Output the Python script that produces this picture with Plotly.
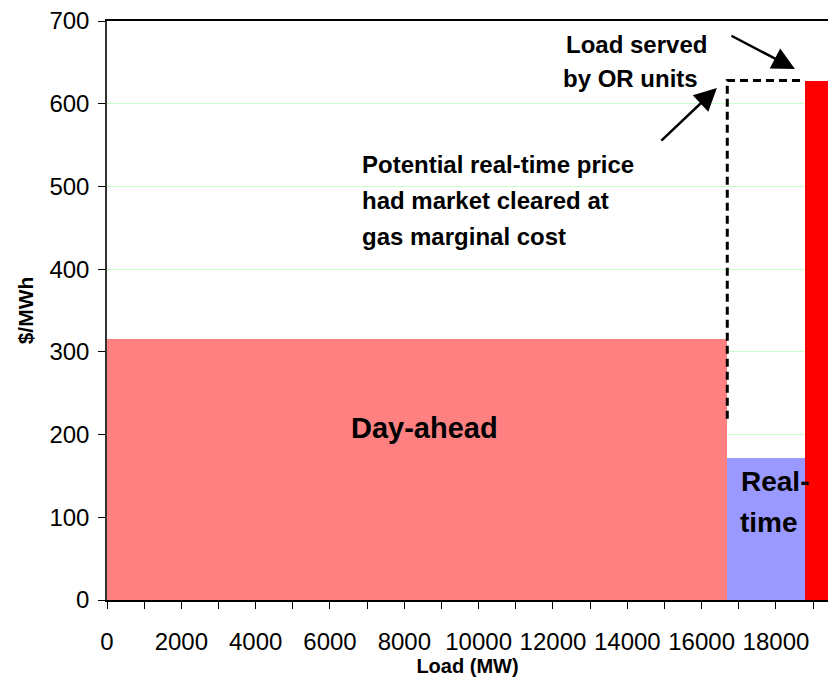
import plotly.graph_objects as go

# ── Data ──────────────────────────────────────────────────────────────────────
block_names  = ["Day-ahead", "Real-time", "OR units"]
block_start  = [0, 16690, 18780]          # MW
block_end    = [16690, 18780, 19600]      # MW
block_price  = [315, 172, 628]            # $/MWh
block_colors = ["#FF8080", "#9999FF", "#FF0000"]

# potential real-time price had market cleared at gas marginal cost
potential_x = [16690, 16690, 18780]
potential_y = [219, 628, 628]

x_tickvals = list(range(0, 20000, 2000))
x_ticktext = [str(v) for v in x_tickvals]
y_tickvals = list(range(0, 800, 100))

FONT = "Liberation Sans, Arial, sans-serif"

# ── Figure ────────────────────────────────────────────────────────────────────
fig = go.Figure()

fig.add_trace(go.Bar(
    x=[(s + e) / 2 for s, e in zip(block_start, block_end)],
    y=block_price,
    width=[e - s for s, e in zip(block_start, block_end)],
    marker=dict(color=block_colors, line=dict(width=0)),
    text=block_names, hoverinfo="text+y", textposition="none",
    showlegend=False,
))

fig.add_trace(go.Scatter(
    x=potential_x, y=potential_y, mode="lines",
    line=dict(color="black", width=3, dash="8px,5px"),
    showlegend=False, hoverinfo="skip",
))

# ── Text labels ───────────────────────────────────────────────────────────────
def label(text, x, y, size, xanchor="left"):
    fig.add_annotation(x=x, y=y, text=f"<b>{text}</b>", showarrow=False,
                       xanchor=xanchor, yanchor="middle",
                       font=dict(family=FONT, size=size, color="black"))

label("Day-ahead", 8555, 208, 29, xanchor="center")
label("Real-", 17010, 143, 28)
label("time", 16990, 94, 28)

label("Potential real-time price", 6807, 527, 24)
label("had market cleared at", 6807, 483, 24)
label("gas marginal cost", 6807, 440, 24)

label("Load served", 12300, 671, 24)
label("by OR units", 12220, 630, 24)

# ── Arrows ────────────────────────────────────────────────────────────────────
for tip_x, tip_y, off_x, off_y in [(18510, 642, -65, -34), (16410, 619, -57, 54)]:
    fig.add_annotation(x=tip_x, y=tip_y, ax=off_x, ay=off_y, text="",
                       showarrow=True, arrowhead=2, arrowsize=1.8,
                       arrowwidth=2.5, arrowcolor="black", standoff=0)

# ── Layout ────────────────────────────────────────────────────────────────────
fig.update_layout(
    width=828, height=681,
    margin=dict(l=107, r=0, t=21, b=81, autoexpand=False),
    plot_bgcolor="white", paper_bgcolor="white",
    bargap=0,
    font=dict(family=FONT, size=24, color="black"),
    xaxis=dict(
        range=[0, 19400], tickvals=x_tickvals, ticktext=x_ticktext,
        ticks="outside", ticklen=7, tickcolor="black", tickwidth=1,
        minor=dict(dtick=1000, tick0=0, ticks="outside", ticklen=7,
                   tickcolor="black", tickwidth=1, showgrid=False),
        showgrid=False, zeroline=False,
        showline=True, linecolor="black", linewidth=1.5, mirror=True,
        ticklabelstandoff=12,
        tickfont=dict(size=24),
        title=dict(text="<b>Load (MW)</b>", font=dict(size=20), standoff=0),
    ),
    yaxis=dict(
        range=[0, 700], tickvals=y_tickvals,
        ticks="outside", ticklen=7, tickcolor="black", tickwidth=1,
        showgrid=True, gridcolor="#C8FFC8", gridwidth=1,
        zeroline=False,
        showline=True, linecolor="#333333", linewidth=1.5,
        ticklabelstandoff=4,
        tickfont=dict(size=24),
        title=dict(text="<b>$/MWh</b>", font=dict(size=21), standoff=10),
    ),
)

# page body margin would shift the chart by 8px
fig.write_html("out.html", config={"displayModeBar": False},
               post_script="document.body.style.margin='0';")
